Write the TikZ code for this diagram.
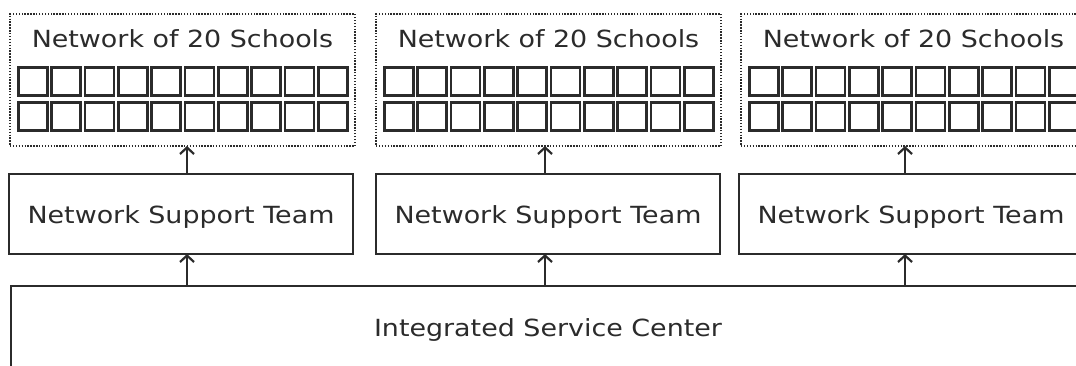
\documentclass[tikz,border=0pt]{standalone}
\usepackage{fontspec}
\setmainfont{DejaVu Sans}[FakeStretch=1.14]
\usetikzlibrary{arrows.meta}
\definecolor{ink}{HTML}{2B2B2B}
\begin{document}
\begin{tikzpicture}[x=1pt,y=-1pt,
  every node/.style={inner sep=0pt,outer sep=0pt,text=ink},
  netbox/.style={draw=ink,line width=1.9pt,dash pattern=on 1.4pt off 1.5pt,minimum width=345pt,minimum height=132pt,anchor=north west},
  teambox/.style={draw=ink,line width=2.4pt,minimum width=344pt,minimum height=80pt,anchor=north west},
  iscbox/.style={draw=ink,line width=2.4pt,minimum width=1074pt,minimum height=82pt,anchor=north west},
  school/.style={draw=ink,line width=2.6pt,minimum width=29pt,minimum height=28pt,anchor=north west},
  lbl/.style={font=\fontsize{23.6}{27}\selectfont,anchor=base},
  arr/.style={draw=ink,line width=2.4pt,-{Straight Barb[length=6.5pt,width=14pt,line width=2.2pt]}}]
\useasboundingbox (0,0) rectangle (1076,365);
\clip (0,0) rectangle (1076,365);
\node[iscbox] (isc) at (11,286) {};
\node[lbl] (isct) at (548,336) {Integrated Service Center};
\foreach \i/\L/\T/\A in {1/10/9/187,2/376/376/545,3/741/739/905}{
  \node[netbox] (net\i) at (\L,14) {};
  \node[lbl] (nett\i) at (\L+172.5,47) {Network of 20 Schools};
  \foreach \k in {0,...,9}{
    \node[school] (s\i a\k) at (\L+8.2+\k*33.35,67.2) {};
    \node[school] (s\i b\k) at (\L+8.2+\k*33.35,102.2) {};
  }
  \node[teambox] (team\i) at (\T,174) {};
  \node[lbl] (teamt\i) at (\T+172,223) {Network Support Team};
  \coordinate (ax\i) at (\A,0);
  \draw[arr] (isc.north -| ax\i) -- (team\i.south -| ax\i);
  \draw[arr] (team\i.north -| ax\i) -- (net\i.south -| ax\i);
}
\end{tikzpicture}
\end{document}
